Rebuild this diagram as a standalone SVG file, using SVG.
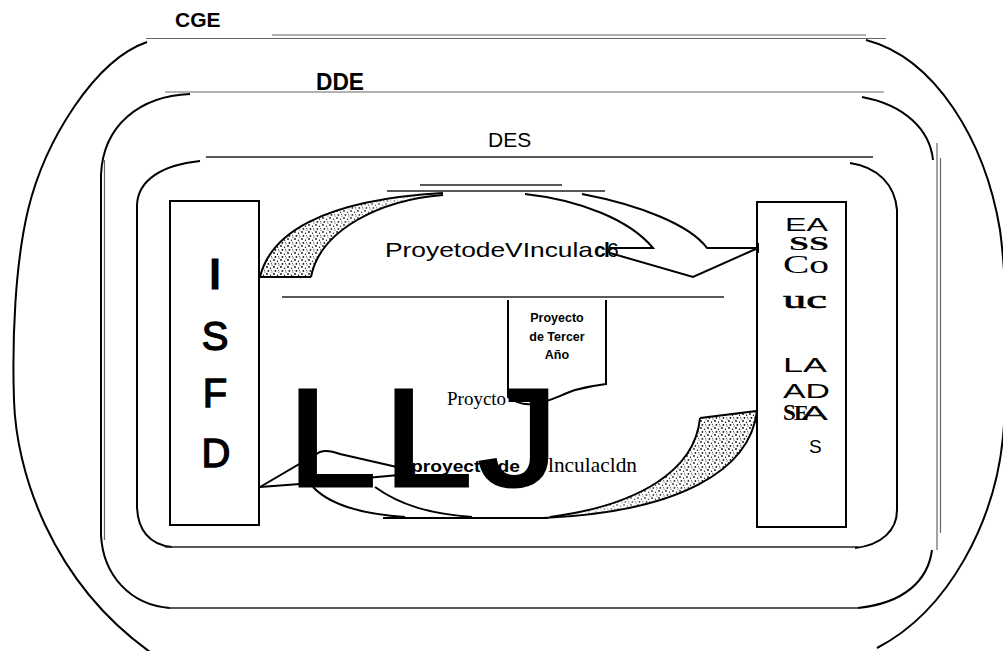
<svg xmlns="http://www.w3.org/2000/svg" width="1003" height="651" viewBox="0 0 1003 651">
<style>
.ln{fill:none;stroke:#000;stroke-width:2}
.thin{fill:none;stroke:#222;stroke-width:1.3}
.gray{fill:none;stroke:#666;stroke-width:1.2}
.sans{font-family:"Liberation Sans",Arial,sans-serif}
.serif{font-family:"Liberation Serif","Times New Roman",serif}
.b{font-weight:bold}
</style>
<defs>
<pattern id="speck" width="7" height="7" patternUnits="userSpaceOnUse">
<circle cx="1" cy="1" r="0.9"/><circle cx="4.5" cy="2.3" r="0.7"/><circle cx="2.4" cy="4.9" r="0.9"/><circle cx="6" cy="6" r="0.6"/><circle cx="5.6" cy="4.2" r="0.5"/>
</pattern>
<linearGradient id="fadeTop" gradientUnits="userSpaceOnUse" x1="280" y1="270" x2="430" y2="195">
<stop offset="0" stop-color="#fff"/><stop offset="0.6" stop-color="#fff" stop-opacity="0.8"/><stop offset="1" stop-color="#000"/>
</linearGradient>
<linearGradient id="fadeBot" gradientUnits="userSpaceOnUse" x1="740" y1="420" x2="560" y2="518">
<stop offset="0" stop-color="#fff"/><stop offset="0.55" stop-color="#fff" stop-opacity="0.8"/><stop offset="1" stop-color="#000"/>
</linearGradient>
<mask id="mTop"><rect x="250" y="180" width="210" height="110" fill="url(#fadeTop)"/></mask>
<mask id="mBot"><rect x="530" y="400" width="240" height="130" fill="url(#fadeBot)"/></mask>
</defs>
<rect width="1003" height="651" fill="#fff"/>

<g id="cge">
<path class="gray" d="M272 35 L866 35"/>
<path class="gray" d="M146 38.5 L886 38.5"/>
<path class="ln" d="M147 42 C95 60 45 140 28 210 C15 265 12 340 14 400 C16 470 50 580 150 652"/>
<path class="ln" d="M866 40 C935 58 985 140 1000 230 C1008 290 1008 380 1003 437 C995 520 950 610 877 648"/>
<text class="sans b" x="175" y="27" font-size="21">CGE</text>
</g>

<g id="dde">
<path class="gray" d="M165 92 L884 92"/>
<path class="ln" d="M190 94 C140 96 103 125 101 175 L101 535 C103 575 130 605 170 608"/>
<path class="thin" d="M167 608 L858 608"/>
<path class="ln" d="M858 608 C905 603 928 580 932 550"/>
<path class="ln" d="M862 97 C905 105 930 130 933 160"/>
<path class="gray" d="M104.5 160 L104.5 540"/>
<path class="gray" d="M937 143 L937 550 M940.5 158 L940.5 533"/>
<text class="sans b" x="316" y="90" font-size="23" textLength="48" lengthAdjust="spacingAndGlyphs">DDE</text>
</g>

<g id="des">
<path class="thin" d="M206 157 L873 157"/>
<path class="ln" d="M200 161 C162 165 138 180 137 205 L137 505 C137 530 150 545 172 547"/>
<path class="thin" d="M165 547 L858 547"/>
<path class="ln" d="M850 163 C878 167 895 185 897 210 L897 510 C897 530 882 545 855 548"/>
<text class="sans" x="488" y="147" font-size="21">DES</text>
</g>

<g id="isfd">
<rect x="170" y="201" width="89" height="324" fill="none" stroke="#000" stroke-width="2"/>
<g class="sans" font-size="40" text-anchor="middle" stroke="#000" stroke-width="1.3">
<text x="215" y="288" stroke-width="3">I</text>
<text x="215" y="350">S</text>
<text x="215" y="407">F</text>
<text x="216" y="467">D</text>
</g>
</g>

<g id="eass">
<rect x="757" y="202" width="89" height="325" fill="none" stroke="#000" stroke-width="2"/>
<text class="sans" x="785" y="231" font-size="19" textLength="43" lengthAdjust="spacingAndGlyphs">EA</text>
<text class="serif b" x="789" y="250" font-size="18" textLength="40" lengthAdjust="spacingAndGlyphs">SS</text>
<text class="serif" x="783" y="273" font-size="26" textLength="46" lengthAdjust="spacingAndGlyphs">Co</text>
<text class="serif" x="783" y="308" font-size="25" textLength="44" lengthAdjust="spacingAndGlyphs" stroke="#000" stroke-width="0.6">uc</text>
<text class="sans" x="783" y="372" font-size="20" textLength="44" lengthAdjust="spacingAndGlyphs">LA</text>
<text class="sans" x="783" y="398" font-size="21" textLength="47" lengthAdjust="spacingAndGlyphs">AD</text>
<text class="serif b" x="783" y="420" font-size="23">S</text>
<text class="serif b" x="794" y="420" font-size="22">E</text>
<text class="sans" x="801" y="420" font-size="21" textLength="27" lengthAdjust="spacingAndGlyphs">A</text>
<text class="sans" x="809" y="453" font-size="19">S</text>
</g>

<g id="tercer">
<path class="ln" d="M508 300 L508 397 C515 402 523 405 532 404 C548 403 560 395 575 390 C590 386 598 385 606 384 L606 300"/>
<g class="sans b" font-size="12.5" text-anchor="middle">
<text x="557" y="322">Proyecto</text>
<text x="557" y="341">de Tercer</text>
<text x="557" y="359">Año</text>
</g>
</g>

<g id="connectors">
<path d="M260 277 C270 235 320 200 443 193 C380 200 320 230 311 277 Z" fill="url(#speck)" mask="url(#mTop)"/>
<path class="ln" d="M311 277 L260 277 C270 235 320 200 443 193"/>
<path class="ln" d="M443 195 C380 200 320 230 311 277"/>
<path class="thin" d="M420 185 L562 185 M387 191 L605 191"/>
<path class="ln" d="M525 194 C580 200 630 220 653 248 L610 248"/>
<path class="ln" d="M582 194 C640 205 690 225 707 248 L758 248"/>
<path class="ln" d="M758 248 L693 277 L610 253"/>
<path class="ln" d="M758 243 L758 253"/>
<path class="thin" d="M282 297 L724 297"/>
<path d="M757 411 C750 470 680 512 543 518 C640 505 695 470 700 418 Z" fill="url(#speck)" mask="url(#mBot)"/>
<path class="ln" d="M700 418 L757 411 C750 470 680 512 543 518"/>
<path class="ln" d="M550 517 C640 505 695 470 700 418"/>
<path class="ln" d="M383 518 L548 518"/>
<path class="ln" d="M260 487 L320 452 C325 450 332 451 340 454 L410 470"/>
<path class="ln" d="M260 487 L300 484 L410 474"/>
<path class="ln" d="M313 487 C330 505 360 514 405 517"/>
<path class="ln" d="M375 487 C400 505 430 514 472 517"/>
</g>

<g id="labels">
<text class="sans" x="385" y="257" font-size="21" textLength="208" lengthAdjust="spacingAndGlyphs">ProyetodeVIncula</text>
<text class="sans b" x="594" y="257" font-size="21">c</text>
<text class="sans b" x="604" y="257" font-size="21">l</text>
<text class="sans" x="607" y="257" font-size="21">6</text>
<text class="serif" x="447" y="405" font-size="19">Proycto</text>
<text class="sans b" x="411" y="472" font-size="17" textLength="109" lengthAdjust="spacingAndGlyphs">proyecto de</text>
<text class="serif" x="548" y="472" font-size="21" textLength="89" lengthAdjust="spacingAndGlyphs">lnculacldn</text>
</g>

<g id="llj" class="sans" font-size="140" stroke="#000" stroke-width="3">
<text transform="translate(287,486) scale(1.15,1)">L</text>
<text transform="translate(383,486) scale(1.15,1)">L</text>
<text transform="translate(478,486) scale(1.15,1)">J</text>
</g>
</svg>
